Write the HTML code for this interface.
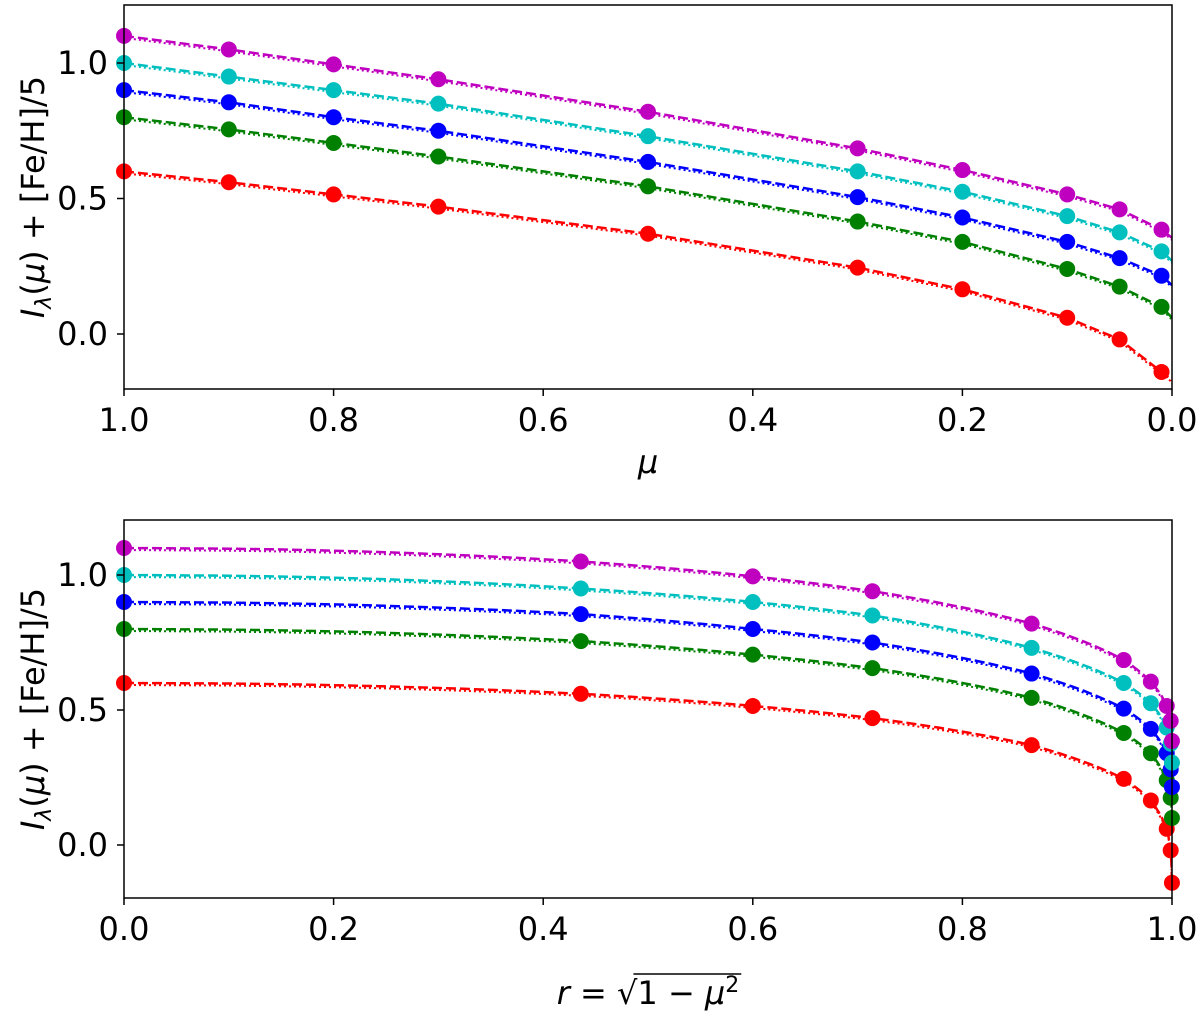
<!DOCTYPE html>
<html><head><meta charset="utf-8"><style>
body{margin:0;background:#fff}
svg text{font-family:"DejaVu Sans","Liberation Sans",sans-serif;fill:#000}
</style></head><body>
<svg id="chart" width="1200" height="1021" viewBox="0 0 1200 1021" xmlns="http://www.w3.org/2000/svg"></svg>
<script>
const muValues=[1,0.9,0.8,0.7,0.5,0.3,0.2,0.1,0.05,0.01];
const seriesNames=["red","green","blue","cyan","magenta"];
const seriesColors=["#ff0000","#008000","#0000ff","#00bfbf","#bf00bf"];
const redVals=[0.6,0.56,0.515,0.47,0.37,0.245,0.165,0.06,-0.02,-0.14];
const greenVals=[0.8,0.755,0.705,0.655,0.545,0.415,0.34,0.24,0.175,0.1];
const blueVals=[0.9,0.855,0.8,0.75,0.635,0.505,0.43,0.34,0.28,0.215];
const cyanVals=[1.0,0.95,0.9,0.85,0.73,0.6,0.525,0.435,0.375,0.305];
const magentaVals=[1.1,1.05,0.995,0.94,0.82,0.685,0.605,0.515,0.46,0.385];
const edgeVals=[-0.17,0.06,0.18,0.27,0.355];
const yTicks=[0.0,0.5,1.0];
const topXTicks=[1.0,0.8,0.6,0.4,0.2,0.0];
const botXTicks=[0.0,0.2,0.4,0.6,0.8,1.0];
const allSeries=[redVals,greenVals,blueVals,cyanVals,magentaVals];

const svg=document.getElementById('chart');
const NS="http://www.w3.org/2000/svg";
function mk(tag,attrs,parent){const e=document.createElementNS(NS,tag);for(const k in attrs)e.setAttribute(k,attrs[k]);(parent||svg).appendChild(e);return e;}
const FS=32;
function panel(top,bottom,isR,name){
  const L=124,R=1172;
  const y0=(top===5)?334:845, y1=(top===5)?63:575;
  const ys=v=>y0+(y1-y0)*v;
  const xs=isR?(r=>L+(R-L)*r):(m=>L+(R-L)*(1-m));
  const conv=m=>isR?Math.sqrt(1-m*m):m;
  const g=mk('g',{});
  
  
  const clipId='clip'+name;
  const cp=mk('clipPath',{id:clipId},g);mk('rect',{x:L,y:top,width:R-L,height:bottom-top},cp);
  const plot=mk('g',{'clip-path':'url(#'+clipId+')'},g);
  allSeries.forEach((vals,si)=>{
    const ms=muValues.concat([0]); const vs=vals.concat([edgeVals[si]]);
    let pts=[];
    for(let i=0;i<ms.length-1;i++){
      const n=isR?20:1;
      for(let k=0;k<n;k++){const t=k/n;const m=ms[i]+(ms[i+1]-ms[i])*t;const v=vs[i]+(vs[i+1]-vs[i])*t;pts.push(xs(conv(m)).toFixed(1)+','+ys(v).toFixed(1));}
    }
    pts.push(xs(conv(0)).toFixed(1)+','+ys(vs[vs.length-1]).toFixed(1));
    const pl=mk('polyline',{points:pts.join(' '),fill:'none',stroke:seriesColors[si],'stroke-width':2.5,'stroke-dasharray':'10,4'},plot);
    
    
    const pl2=mk('polyline',{points:pts.join(' '),fill:'none',stroke:seriesColors[si],'stroke-width':2,'stroke-dasharray':'2,3',transform:'translate(0,2)'},plot);
    
    
    muValues.forEach((m,i)=>{
      const c=mk('circle',{cx:xs(conv(m)),cy:ys(vals[i]),r:8,fill:seriesColors[si]},g);
      
      
    });
  });
  const fr=mk('rect',{x:L,y:top,width:R-L,height:bottom-top,fill:'none',stroke:'#000','stroke-width':1.5},g);
  
  
  yTicks.forEach(t=>{
    mk('line',{x1:L-7,x2:L,y1:ys(t),y2:ys(t),stroke:'#000','stroke-width':1.5},g);
    const tx=mk('text',{x:L-16,y:ys(t)+11,'text-anchor':'end','font-size':FS},g);tx.textContent=t.toFixed(1);
    
    
  });
  (isR?botXTicks:topXTicks).forEach(t=>{
    const x=xs(t);
    mk('line',{x1:x,x2:x,y1:bottom,y2:bottom+7,stroke:'#000','stroke-width':1.5},g);
    const tx=mk('text',{x:x,y:bottom+42,'text-anchor':'middle','font-size':FS},g);tx.textContent=t.toFixed(1);
    
    
  });
  const cy=(top+bottom)/2;
  const yl=mk('text',{x:0,y:0,'font-size':FS,'text-anchor':'middle',transform:'translate(44,'+cy+') rotate(-90)'},g);
  yl.innerHTML='<tspan font-style="italic">I</tspan><tspan font-style="italic" font-size="22" dy="7">λ</tspan><tspan dy="-7">(</tspan><tspan font-style="italic">μ</tspan><tspan>) + [Fe/H]/5</tspan>';
  
  
}
panel(5,389,false,'top-panel');
panel(520,898,true,'bottom-panel');
const xl1=mk('text',{x:648,y:473,'font-size':FS,'font-style':'italic','text-anchor':'middle'});xl1.textContent='μ';


const xl2=mk('text',{x:538,y:1004,'font-size':FS});
xl2.innerHTML='<tspan font-style="italic">r</tspan> = √<tspan id="rad">1 − <tspan font-style="italic">μ</tspan><tspan font-size="22" dy="-12">2</tspan></tspan>';


const bb=xl2.getBBox();
const shift=648-(bb.x+bb.width/2);
xl2.setAttribute('x',538+shift);
const rad=document.getElementById('rad');
const start=xl2.getStartPositionOfChar ? null : null;
const n=xl2.textContent.indexOf('1');
const sx=xl2.getStartPositionOfChar(n).x;
const bb2=xl2.getBBox();
const ol=mk('line',{x1:sx-4,x2:bb2.x+bb2.width+2,y1:974,y2:974,stroke:'#000','stroke-width':1.5});


</script>
</body></html>
